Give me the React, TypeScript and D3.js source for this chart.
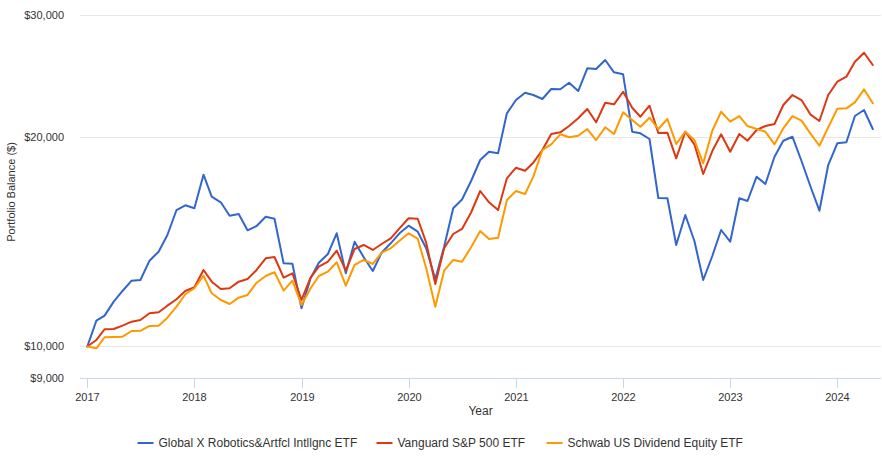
import React from "react";
import * as d3 from "d3";

const START_YEAR = 2017;
const yearTicks = [2017, 2018, 2019, 2020, 2021, 2022, 2023, 2024];
const yTicks = [9000, 10000, 20000, 30000];

const seriesNames = [
  "Global X Robotics&Artfcl Intllgnc ETF",
  "Vanguard S&P 500 ETF",
  "Schwab US Dividend Equity ETF",
];
const seriesColors = ["#3366cc", "#dc3912", "#ff9900"];

// Monthly portfolio balances, Jan 2017 – May 2024
const roboValues = [
  10000, 10891, 11073, 11598, 12016, 12432, 12461, 13283, 13684, 14461, 15708, 15955,
  15797, 17655, 16415, 16114, 15416, 15502, 14688, 14899, 15365, 15262, 13169, 13150,
  11347, 12531, 13195, 13580, 14543, 12740, 14144, 13433, 12838, 13639, 14069, 14543,
  14914, 14620, 13839, 12490, 13912, 15797, 16264, 17291, 18535, 19051, 18950, 21631,
  22604, 23156, 22981, 22679, 23443, 23420, 23936, 23289, 25105, 25046, 25803, 24773,
  24611, 20354, 20247, 19868, 16345, 16330, 13991, 15451, 14177, 12461, 13491, 14703,
  14144, 16328, 16183, 17539, 17120, 18738, 19757, 20020, 18473, 17007, 15672, 18230,
  19588, 19653, 21438, 21868, 20537,
];
const vooValues = [
  10000, 10217, 10586, 10596, 10712, 10855, 10916, 11161, 11198, 11445, 11690, 12016,
  12164, 12880, 12391, 12095, 12124, 12391, 12502, 12880, 13389, 13446, 12556, 12740,
  11663, 12556, 13022, 13239, 13730, 12850, 13807, 13991, 13762, 14037, 14304, 14786,
  15283, 15262, 14098, 12297, 13839, 14509, 14752, 15579, 16728, 16114, 15708, 17446,
  18068, 17888, 18370, 19158, 20200, 20313, 20741, 21277, 21941, 20998, 22402, 22284,
  23233, 22035, 21389, 22182, 20267, 20287, 18639, 20354, 19523, 17696, 19095, 20180,
  19051, 20200, 19757, 20469, 20741, 20880, 22233, 22981, 22604, 21560, 21089, 22981,
  24015, 24417, 25659, 26435, 25381,
];
const schdValues = [
  10000, 9940, 10309, 10320, 10330, 10526, 10530, 10702, 10710, 11000, 11408, 11885,
  12124, 12639, 11924, 11663, 11510, 11752, 11858, 12350, 12627, 12783, 12028, 12432,
  11472, 12124, 12627, 12808, 13213, 12229, 13095, 13314, 13139, 13639, 13839, 14191,
  14543, 14286, 12953, 11408, 12850, 13314, 13239, 13889, 14654, 14272, 14333, 16237,
  16728, 16563, 17539, 19158, 19523, 20180, 19980, 20086, 20537, 19803, 20652, 20200,
  21703, 21158, 20694, 21320, 20537, 21228, 19542, 20354, 19803, 18333, 20422, 21746,
  21040, 21438, 20741, 20537, 20354, 19523, 20585, 21438, 21110, 20247, 19432, 20652,
  21963, 21992, 22434, 23419, 22360,
];
const allSeries = [roboValues, vooValues, schdValues];

const W = 882;
const H = 456;
const plotLeft = 80;
const plotRight = 881;

const fmt = d3.format(",");

export default function App() {
  const x = d3
    .scaleTime()
    .domain([new Date(2017, 0, 1), new Date(2024, 0, 1)])
    .range([87.3, 837.3]);
  const y = d3.scaleLog().domain([9000, 30000]).range([378.3, 14.5]);

  const line = d3
    .line<number>()
    .x((_, i) => x(new Date(START_YEAR, i, 1)))
    .y((v) => y(v));

  const font = "'Liberation Sans', Arial, Helvetica, sans-serif";

  // legend layout
  const legendY = 443;
  const symW = 16;
  const symPad = 5;
  const itemGap = 20;
  const charWidths = seriesNames.map((n) => {
    // approximate via canvas-free measure: use known widths
    return n;
  });
  const textWidths = [198, 129, 174];
  let cx = 137.5;
  const legendItems = seriesNames.map((name, i) => {
    const item = { name, color: seriesColors[i], x: cx };
    cx += symW + symPad + textWidths[i] + itemGap;
    return item;
  });
  void charWidths;

  return (
    <svg
      width={W}
      height={H}
      style={{ position: "absolute", left: 0, top: 0, background: "#fff" }}
      fontFamily={font}
    >
      <rect x={0} y={0} width={W} height={H} fill="#ffffff" />
      {/* gridlines */}
      {yTicks.map((t) => (
        <line
          key={t}
          x1={plotLeft}
          x2={plotRight}
          y1={Math.round(y(t)) + 0.5}
          y2={Math.round(y(t)) + 0.5}
          stroke={t === 9000 ? "#ccd6eb" : "#e6e6e6"}
          strokeWidth={1}
        />
      ))}
      {/* x ticks */}
      {yearTicks.map((yr) => {
        const px = Math.round(x(new Date(yr, 0, 1))) + 0.5;
        return (
          <g key={yr}>
            <line x1={px} x2={px} y1={378.5} y2={388} stroke="#ccd6eb" strokeWidth={1} />
            <text x={px} y={401} textAnchor="middle" fontSize={11} fill="#333">
              {yr}
            </text>
          </g>
        );
      })}
      {/* y labels */}
      {yTicks.map((t) => (
        <text
          key={t}
          x={64}
          y={y(t) + 4}
          textAnchor="end"
          fontSize={11}
          fill="#333"
        >
          {"$" + fmt(t)}
        </text>
      ))}
      {/* axis titles */}
      <text
        transform={`translate(15,192) rotate(-90)`}
        textAnchor="middle"
        fontSize={11}
        fill="#333"
      >
        Portfolio Balance ($)
      </text>
      <text x={480.5} y={414.5} textAnchor="middle" fontSize={12} fill="#333">
        Year
      </text>
      {/* series lines */}
      {allSeries.map((vals, i) => (
        <path
          key={i}
          d={line(vals) || ""}
          fill="none"
          stroke={seriesColors[i]}
          strokeWidth={2}
          strokeLinejoin="round"
          strokeLinecap="round"
        />
      ))}
      {/* legend */}
      {legendItems.map((it) => (
        <g key={it.name}>
          <line
            x1={it.x}
            x2={it.x + symW}
            y1={legendY}
            y2={legendY}
            stroke={it.color}
            strokeWidth={2}
          />
          <text x={it.x + symW + symPad} y={legendY + 4} fontSize={12} fill="#333">
            {it.name}
          </text>
        </g>
      ))}
    </svg>
  );
}
